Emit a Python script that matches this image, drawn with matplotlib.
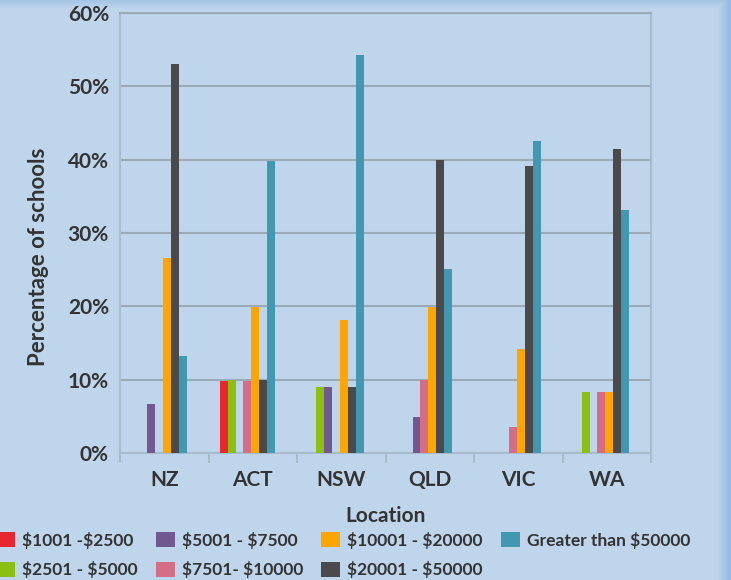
import numpy as np
import matplotlib
matplotlib.use("Agg")
from matplotlib import pyplot as plt
from matplotlib.ticker import PercentFormatter
from matplotlib.colors import to_rgb

locations = ["NZ", "ACT", "NSW", "QLD", "VIC", "WA"]
series_names = ["$1001 -$2500", "$2501 - $5000", "$5001 - $7500", "$7501- $10000",
                "$10001 - $20000", "$20001 - $50000", "Greater than $50000"]
s1001_2500 = [0, 9.8, 0, 0, 0, 0]
s2501_5000 = [0, 10.0, 9.0, 0, 0, 8.3]
s5001_7500 = [6.7, 0, 9.0, 4.9, 0, 0]
s7501_10000 = [0, 9.8, 0, 9.9, 3.6, 8.3]
s10001_20000 = [26.6, 19.9, 18.1, 19.9, 14.2, 8.3]
s20001_50000 = [53.1, 10.0, 9.0, 39.9, 39.1, 41.5]
s_over_50000 = [13.2, 39.8, 54.3, 25.1, 42.6, 33.2]
series = [s1001_2500, s2501_5000, s5001_7500, s7501_10000,
          s10001_20000, s20001_50000, s_over_50000]
colors = ["#E8262F", "#8BBF12", "#725891", "#D46E86", "#FFA500", "#4A4A4C", "#4298B0"]

bg = "#BED5EB"
txt = "#333333"
plt.rcParams['font.family'] = ['Lato', 'DejaVu Sans']
plt.rcParams['text.parse_math'] = False

fig = plt.figure(figsize=(7.31, 5.80), dpi=100, facecolor=bg)

# soft darker edge on the right and top of the panel
back = fig.add_axes([0, 0, 1, 1], zorder=-5)
H, W = 580, 731
img = np.ones((H, W, 3)) * np.array(to_rgb(bg))
edge = np.array(to_rgb("#8DB6E0"))
cols = np.arange(W)
rt = np.clip((cols - (W - 14)) / 14.0, 0, 1)[None, :, None]
rows = np.arange(H)
tp = np.clip((8 - rows) / 8.0, 0, 1)[:, None, None] * 0.5
a = np.maximum(rt, tp)
img = img * (1 - a) + edge * a
back.imshow(img, aspect='auto', extent=(0, 1, 0, 1))
back.axis('off')

ax = fig.add_axes([0.1642, 0.219, 0.7264, 0.7586], facecolor=bg)

x = np.arange(len(locations))
w = 0.09
shift = -0.06
for j, (vals, c, name) in enumerate(zip(series, colors, series_names)):
    ax.bar(x + shift + (j - 3) * w, vals, w, color=c, label=name, zorder=3)

ax.set_ylim(0, 60)
ax.set_xlim(-0.5, 5.5)
ax.yaxis.set_major_formatter(PercentFormatter(decimals=0))
ax.set_yticks(range(0, 61, 10))
ax.grid(axis='y', color="#9BAAB9", linewidth=1.5, zorder=0)
ax.tick_params(axis='y', length=0, pad=8, labelsize=15, labelcolor=txt)
for lab in ax.get_yticklabels():
    lab.set_fontweight('bold')

ax.set_xticks(x)
ax.set_xticklabels(locations, fontsize=15, fontweight='bold', color=txt)
ax.tick_params(axis='x', which='major', length=0, pad=12)
ax.set_xticks(np.arange(-0.5, 6, 1), minor=True)
ax.tick_params(axis='x', which='minor', length=7, width=1.5, color="#A8BCCE")

for side in ['left', 'bottom', 'right', 'top']:
    ax.spines[side].set_color("#A8BCCE")
    ax.spines[side].set_linewidth(1.5)
ax.spines['top'].set_color("#9BAAB9")

ax.set_xlabel("Location", fontsize=15, fontweight='bold', color=txt, labelpad=12)
ax.set_ylabel("Percentage of schools", fontsize=16, fontweight='bold', color=txt)
ax.yaxis.set_label_coords(-0.133, 0.445)

fig.legend(loc='upper left', bbox_to_anchor=(-0.006, 0.083), ncol=4, frameon=False,
           prop={'weight': 'bold', 'size': 12.5}, labelcolor=txt,
           handlelength=1.1, handleheight=0.95, handletextpad=0.4,
           columnspacing=1.05, labelspacing=0.7, borderpad=0, borderaxespad=0)

fig.savefig("out.png", dpi=100, facecolor=bg)
